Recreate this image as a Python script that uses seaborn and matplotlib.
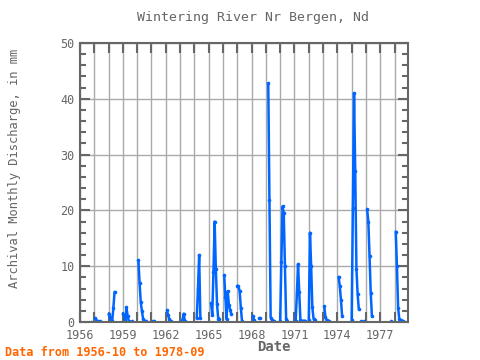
import numpy as np
import pandas as pd
import seaborn as sns
import matplotlib.pyplot as plt
from matplotlib.ticker import MultipleLocator

# Monthly discharge (mm), one list per unbroken run of months
seg_start = ["1956-10", "1957-02", "1957-06", "1958-01", "1959-01", "1959-09",
             "1960-02", "1961-02", "1962-02", "1963-03", "1964-03", "1965-03",
             "1966-02", "1967-01", "1968-02", "1968-07", "1969-03", "1970-01",
             "1971-02", "1972-01", "1973-02", "1974-02", "1975-01", "1975-09",
             "1975-11", "1976-02", "1977-10", "1978-02"]
seg_values = [
    [0.0],
    [0.7, 0.2, 0.1],
    [0.1],
    [1.4, 0.9, 0.4, 0.1, 2.5, 5.4],
    [1.5, 1.3, 0.1, 2.6, 1.0, 0.1],
    [0.1],
    [11.1, 7.0, 3.5, 1.9, 0.5, 0.2, 0.2],
    [0.1, 0.1],
    [2.1, 1.2, 0.5, 0.2],
    [0.3, 1.5, 0.2],
    [0.7, 6.0, 12.0, 0.8],
    [3.4, 1.3, 9.0, 18.0, 9.5, 3.2, 0.6, 0.6],
    [8.4, 4.5, 0.5, 5.5, 3.0, 2.2, 1.4],
    [6.5, 6.4, 5.5, 2.5, 0.1],
    [1.1, 0.3],
    [0.8, 0.8],
    [42.8, 21.8, 0.8, 0.4, 0.2, 0.1],
    [0.2, 10.8, 20.7, 19.5, 10.0, 0.5, 0.2],
    [0.2, 5.0, 10.4, 5.3, 0.3, 0.2, 0.2, 0.2, 0.2],
    [0.3, 16.0, 10.0, 2.6, 0.6, 0.3],
    [2.8, 0.9, 0.3, 0.2, 0.1],
    [8.1, 6.5, 4.0, 1.0],
    [0.3, 20.5, 41.0, 27.0, 9.5, 5.0, 2.3],
    [0.1],
    [0.1],
    [20.2, 18.0, 11.8, 5.2, 1.0],
    [0.1],
    [16.2, 10.0, 2.5, 0.5, 0.3, 0.1, 0.1, 0.0],
]

rows = []
for sid, (start, vals) in enumerate(zip(seg_start, seg_values)):
    yr, mo = map(int, start.split("-"))
    for i, v in enumerate(vals):
        rows.append({"seg": sid, "date": yr + (mo - 1 + i) / 12, "value": v})
df = pd.DataFrame(rows)

sns.set_style("ticks")
plt.rcParams["font.family"] = ["DejaVu Sans Mono"]

grey = "#666666"
fig = plt.figure(figsize=(4.8, 3.6), dpi=100)
ax = fig.add_axes([80 / 480, 38 / 360, 328 / 480, 279 / 360])

sns.lineplot(data=df, x="date", y="value", units="seg", estimator=None,
             color="#0066ff", lw=1.8, marker="o", markersize=2.6,
             markeredgewidth=0, ax=ax)

ax.set_xlim(1956, 1978.94)
ax.set_ylim(0, 50)
ax.xaxis.set_major_locator(MultipleLocator(3))
ax.xaxis.set_minor_locator(MultipleLocator(1))
ax.yaxis.set_major_locator(MultipleLocator(10))
ax.yaxis.set_minor_locator(MultipleLocator(2))
ax.xaxis.set_major_formatter(plt.FuncFormatter(lambda v, p: f"{int(round(v))}"))

ax.grid(True, axis="x", which="both", color="#aaaaaa", lw=1)
ax.grid(True, axis="y", which="major", color="#aaaaaa", lw=1)
ax.tick_params(axis="both", which="both", direction="in", top=True, right=True,
               color=grey, labelcolor=grey, labelsize=8.5, width=1.5)
ax.tick_params(axis="x", which="both", length=7, pad=5)
ax.tick_params(axis="y", which="major", length=7, pad=4)
ax.tick_params(axis="y", which="minor", length=4)
for s in ax.spines.values():
    s.set_color(grey)
    s.set_linewidth(1.5)

ax.set_xlabel("")
ax.set_ylabel("")
fig.text(253 / 480, 1 - 17 / 360, "Wintering River Nr Bergen, Nd",
         ha="center", va="center", fontsize=9.5, color=grey)
fig.text(15 / 480, 1 - 168 / 360, "Archival Monthly Discharge, in mm",
         ha="center", va="center", rotation=90, fontsize=8.7, color=grey)
fig.text(274 / 480, 1 - 347 / 360, "Date", ha="center", va="center",
         fontsize=10, color=grey, fontweight="bold")
fig.text(5 / 480, 1 - 352 / 360, "Data from 1956-10 to 1978-09",
         ha="left", va="center", fontsize=8.5, color="#ff6600", fontweight="bold")

fig.savefig("out.png", dpi=100)
